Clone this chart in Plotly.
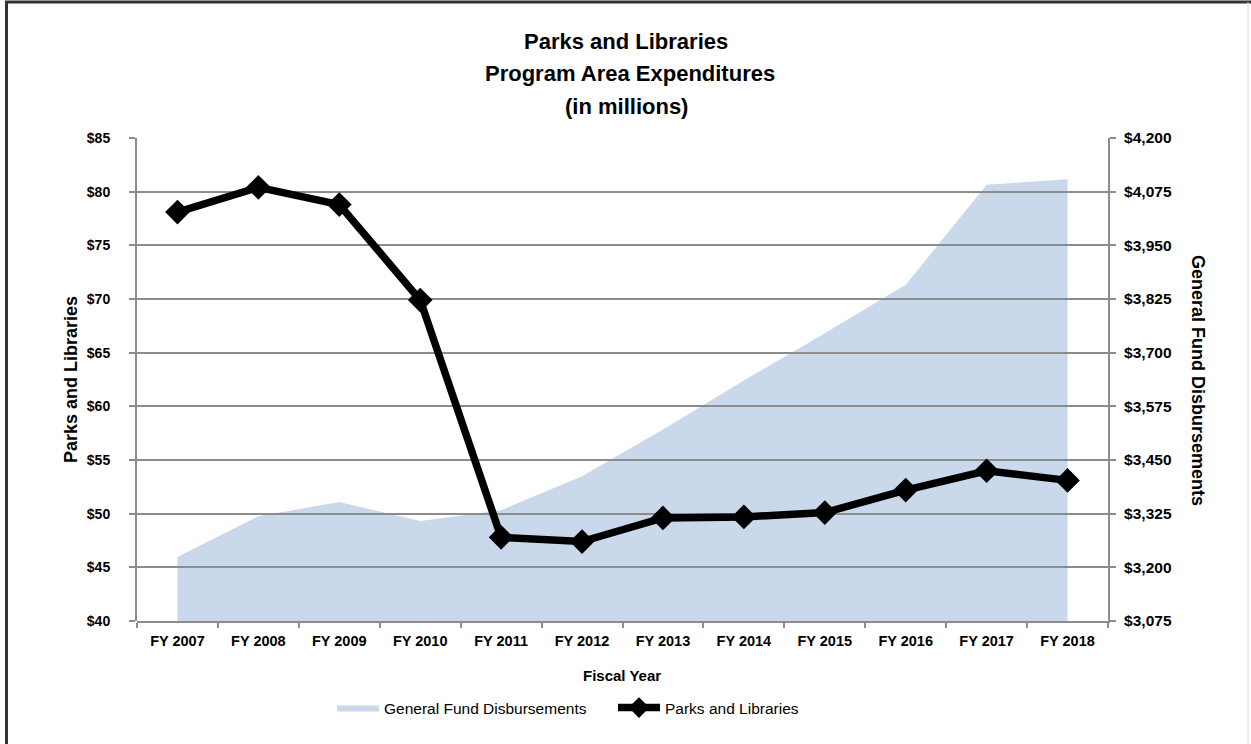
import plotly.graph_objects as go

# ---- data ----
fiscal_years = ["FY 2007", "FY 2008", "FY 2009", "FY 2010", "FY 2011", "FY 2012",
                "FY 2013", "FY 2014", "FY 2015", "FY 2016", "FY 2017", "FY 2018"]
parks_libraries = [78.1, 80.4, 78.8, 69.9, 47.8, 47.4, 49.6, 49.7, 50.1, 52.2, 54.0, 53.1]
general_fund = [3224, 3319, 3352, 3308, 3333, 3412, 3521, 3635, 3745, 3858, 4091, 4104]

left_ticks = [40, 45, 50, 55, 60, 65, 70, 75, 80, 85]
left_tick_text = ["$40", "$45", "$50", "$55", "$60", "$65", "$70", "$75", "$80", "$85"]
right_ticks = [3075, 3200, 3325, 3450, 3575, 3700, 3825, 3950, 4075, 4200]
right_tick_text = ["$3,075", "$3,200", "$3,325", "$3,450", "$3,575", "$3,700",
                   "$3,825", "$3,950", "$4,075", "$4,200"]

SANS = "Liberation Sans, Arial, sans-serif"
GRID = "#8c8c8c"
AREA = "#c9d8eb"

fig = go.Figure()
# area on the base subplot (right axis)
fig.add_trace(go.Scatter(
    x=fiscal_years, y=general_fund, name="General Fund Disbursements",
    mode="lines", line=dict(width=0, color=AREA),
    fill="tozeroy", fillcolor=AREA, xaxis="x", yaxis="y",
))
# line on a second subplot with identical domain (drawn above, with its grid above the area)
fig.add_trace(go.Scatter(
    x=fiscal_years, y=parks_libraries, name="Parks and Libraries",
    mode="lines+markers", line=dict(color="black", width=7.5),
    marker=dict(symbol="diamond", size=19, color="black"), xaxis="x2", yaxis="y2",
))

W, H = 1251, 744
L, R, T, B = 137, 143, 138, 123
pw, ph = W - L - R, H - T - B

def px_x(x):
    return (x - L) / pw

def px_y(y):
    return (H - B - y) / ph

fig.update_layout(
    width=W, height=H,
    margin=dict(l=L, r=R, t=T, b=B),
    paper_bgcolor="white", plot_bgcolor="rgba(0,0,0,0)",
    showlegend=True,
    legend=dict(orientation="h", x=px_x(332), xanchor="left", y=px_y(708), yanchor="middle",
                font=dict(family=SANS, size=15.5, color="black"),
                itemwidth=42, entrywidth=224, entrywidthmode="pixels", traceorder="normal",
                bgcolor="rgba(0,0,0,0)"),
    xaxis=dict(
        type="category", range=[-0.5, 11.5], tickson="boundaries", domain=[0, 1],
        showline=True, linecolor=GRID, linewidth=2, ticks="outside", ticklen=5,
        tickcolor=GRID, tickwidth=2, showgrid=False,
        tickfont=dict(family=SANS, size=14.5, color="black", weight="bold"),
        ticklabelstandoff=6,
    ),
    yaxis=dict(
        range=[3075, 4200], tickvals=right_ticks, ticktext=right_tick_text,
        side="right", anchor="x", domain=[0, 1],
        showline=True, linecolor=GRID, linewidth=2, ticks="outside", ticklen=6,
        tickcolor=GRID, tickwidth=2, showgrid=False, zeroline=False,
        tickfont=dict(family=SANS, size=15.5, color="black", weight="bold"),
        ticklabelstandoff=5,
    ),
    xaxis2=dict(
        type="category", range=[-0.5, 11.5], domain=[0, 1], anchor="y2",
        visible=False, showgrid=False, matches="x",
    ),
    yaxis2=dict(
        range=[40, 85], tickvals=left_ticks, ticktext=left_tick_text,
        side="left", anchor="x2", domain=[0, 1],
        showline=True, linecolor=GRID, linewidth=2, ticks="outside", ticklen=6,
        tickcolor=GRID, tickwidth=2, showgrid=True, gridcolor=GRID, gridwidth=2,
        zeroline=False, tickfont=dict(family=SANS, size=14, color="black", weight="bold"),
        ticklabelstandoff=16,
    ),
    annotations=[
        dict(text="<b>Parks and Libraries</b>", xref="paper", yref="paper",
             x=px_x(626), y=px_y(41), xanchor="center", yanchor="middle",
             showarrow=False, font=dict(family=SANS, size=22, color="black")),
        dict(text="<b>Program Area Expenditures</b>", xref="paper", yref="paper",
             x=px_x(630), y=px_y(73), xanchor="center", yanchor="middle",
             showarrow=False, font=dict(family=SANS, size=22, color="black")),
        dict(text="<b>(in millions)</b>", xref="paper", yref="paper",
             x=px_x(626), y=px_y(106), xanchor="center", yanchor="middle",
             showarrow=False, font=dict(family=SANS, size=22, color="black")),
        dict(text="<b>Parks and Libraries</b>", xref="paper", yref="paper",
             x=px_x(71), y=px_y(380), xanchor="center", yanchor="middle", textangle=-90,
             showarrow=False, font=dict(family=SANS, size=18, color="black")),
        dict(text="<b>General Fund Disbursements</b>", xref="paper", yref="paper",
             x=px_x(1198), y=px_y(380), xanchor="center", yanchor="middle", textangle=90,
             showarrow=False, font=dict(family=SANS, size=18, color="black")),
        dict(text="<b>Fiscal Year</b>", xref="paper", yref="paper",
             x=px_x(622), y=px_y(675), xanchor="center", yanchor="middle",
             showarrow=False, font=dict(family=SANS, size=15, color="black")),
    ],
    shapes=[
        dict(type="line", xref="paper", yref="paper", x0=px_x(6.5), x1=px_x(6.5), y0=px_y(1), y1=px_y(744),
             line=dict(color="#333333", width=3)),
        dict(type="line", xref="paper", yref="paper", x0=px_x(5), x1=px_x(1251), y0=px_y(2), y1=px_y(2),
             line=dict(color="#333333", width=3)),
        dict(type="line", xref="paper", yref="paper", x0=px_x(1248), x1=px_x(1248), y0=px_y(2), y1=px_y(744),
             line=dict(color="#dddddd", width=1)),
    ],
)

fig.write_html("out.html", config={"displayModeBar": False},
               post_script="document.body.style.margin='0px';")
